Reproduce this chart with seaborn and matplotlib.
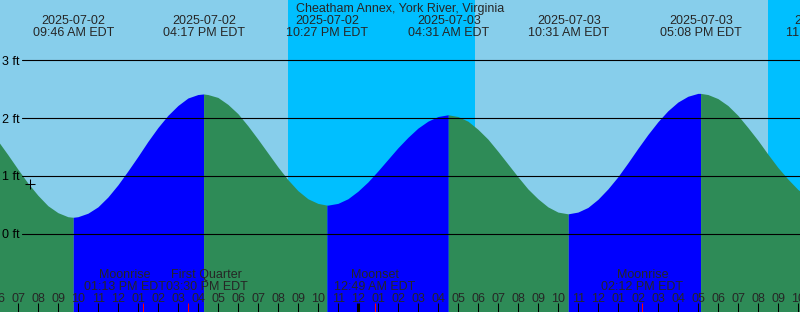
import matplotlib
matplotlib.use("Agg")
import matplotlib.pyplot as plt
import numpy as np
import pandas as pd
import seaborn as sns

# ------------------------------------------------------------------ data
title = "Cheatham Annex, York River, Virginia"

# hours since 2025-07-02 00:00 EDT
view_start, view_end = 6.08, 46.08

# tide height every half hour (ft)
sample_hours = np.arange(6.0, 46.51, 0.5)
sample_heights = [
    1.60, 1.36, 1.11, 0.87, 0.66, 0.48, 0.36, 0.29,
    0.29, 0.35, 0.46, 0.63, 0.84, 1.08, 1.33, 1.59, 1.83, 2.04, 2.21, 2.34, 2.40,
    2.40, 2.35, 2.23, 2.07, 1.86, 1.63, 1.39, 1.15, 0.93, 0.74, 0.60, 0.52,
    0.49, 0.52, 0.60, 0.73, 0.89, 1.08, 1.28, 1.48, 1.66, 1.82, 1.94, 2.02, 2.05,
    2.02, 1.94, 1.80, 1.63, 1.42, 1.20, 0.98, 0.77, 0.60, 0.46, 0.37, 0.34,
    0.37, 0.45, 0.59, 0.77, 0.98, 1.22, 1.47, 1.71, 1.93, 2.12, 2.27, 2.37, 2.42,
    2.40, 2.33, 2.21, 2.04, 1.83, 1.61, 1.37, 1.14, 0.94, 0.76, 0.63,
]

# high / low tide events
extreme_hours = [9.767, 16.283, 22.45, 28.517, 34.517, 41.133, 47.4]
extreme_heights = [0.28, 2.41, 0.49, 2.05, 0.34, 2.42, 0.54]
extreme_dates = ["2025-07-02", "2025-07-02", "2025-07-02", "2025-07-03",
                 "2025-07-03", "2025-07-03", "2025-07-03"]
extreme_times = ["09:46 AM EDT", "04:17 PM EDT", "10:27 PM EDT", "04:31 AM EDT",
                 "10:31 AM EDT", "05:08 PM EDT", "11:24 PM EDT"]

# sunset / sunrise (night intervals)
night_starts = [20.485, 44.485]
night_ends = [29.835, 53.0]

# moon events
moon_hours = [13.217, 15.5, 24.817, 38.2]
moon_names = ["Moonrise", "First Quarter", "Moonset", "Moonrise"]
moon_times = ["01:13 PM EDT", "03:30 PM EDT", "12:49 AM EDT", "02:12 PM EDT"]

# current time marker
now_hour = 7.585
now_height = 0.86

height_ticks = [0, 1, 2, 3]
hour_ticks = list(range(6, 47))

# ------------------------------------------------------------------ style
sns.set_style("white")
plt.rcParams["font.family"] = ["Liberation Sans", "DejaVu Sans"]
plt.rcParams["font.size"] = 9

DAY = "#87CEEB"
NIGHT = "#00BFFF"
FLOOD = "#0000FF"
EBB = "#2E8B57"

W, H = 800, 312
fig = plt.figure(figsize=(W / 100, H / 100), dpi=100)
ax = fig.add_axes([0, 0, 1, 1])
ax.set_facecolor(DAY)

px_per_ft = 57.9
ymax = 234 / px_per_ft
ymin = -(H - 234) / px_per_ft

# night shading
for s, e in zip(night_starts, night_ends):
    ax.axvspan(s, e, color=NIGHT, lw=0, zorder=1)

# curve = samples + extremes
curve = pd.concat([
    pd.DataFrame({"hour": sample_hours, "height": sample_heights}),
    pd.DataFrame({"hour": extreme_hours, "height": extreme_heights}),
]).sort_values("hour").drop_duplicates("hour").reset_index(drop=True)

bounds = [-np.inf] + list(extreme_hours) + [np.inf]
for a, b in zip(bounds[:-1], bounds[1:]):
    seg = curve[(curve.hour >= a) & (curve.hour <= b)]
    if len(seg) < 2:
        continue
    rising = seg.height.iloc[-1] > seg.height.iloc[0]
    ax.fill_between(seg.hour, seg.height, ymin - 5, color=FLOOD if rising else EBB,
                    lw=0, zorder=2)

# height lines + labels
for v in height_ticks:
    ax.axhline(v, xmin=22 / W, xmax=1, color="black", lw=0.8, zorder=3)
    ax.text(19.5 / W, v - 4.3 / px_per_ft, f"{v} ft", transform=ax.get_yaxis_transform(),
            ha="right", va="baseline", color="black", zorder=5)

xt = ax.get_xaxis_transform()

def ay(px_from_top):
    return 1 - px_from_top / H

# title
ax.text(0.5, ay(12.3), title, transform=ax.transAxes, ha="center", va="baseline", zorder=6)

# tide event labels
for hr, d, t in zip(extreme_hours, extreme_dates, extreme_times):
    ax.text(hr, ay(24.2), d, transform=xt, ha="center", va="baseline", zorder=6)
    ax.text(hr, ay(36.2), t, transform=xt, ha="center", va="baseline", zorder=6)

# hour ticks
for h in hour_ticks:
    lw = 2.2 if h % 24 == 0 else 0.75
    ax.vlines(h, 0, 9 / H, transform=xt, colors="black", lw=lw, zorder=5)
    lab = f"{(h % 12) or 12:02d}"
    ax.text(h, ay(302.3), lab, transform=xt, ha="center", va="baseline", zorder=6)

# moon events
ax.vlines(moon_hours, 0, 9 / H, transform=xt, colors="red", lw=0.75, zorder=5)
mtexts = []
for hr, n, t in zip(moon_hours, moon_names, moon_times):
    t1 = ax.text(hr, ay(278.3), n, transform=xt, ha="center", va="baseline", zorder=6)
    t2 = ax.text(hr, ay(290.3), t, transform=xt, ha="center", va="baseline", zorder=6)
    mtexts.append((t1, t2))

# current time marker
sns.scatterplot(x=[now_hour], y=[now_height], marker="+", s=50, color="black",
                linewidth=0.75, ax=ax, zorder=7)

ax.set_xlim(view_start, view_end)
ax.set_ylim(ymin, ymax)
ax.set_xticks([])
ax.set_yticks([])
ax.set_xlabel("")
ax.set_ylabel("")
for sp in ax.spines.values():
    sp.set_visible(False)

# resolve overlapping moon labels
fig.canvas.draw()
r = fig.canvas.get_renderer()
pph = ax.transData.transform((1, 0))[0] - ax.transData.transform((0, 0))[0]
widths = [max(a.get_window_extent(r).width, b.get_window_extent(r).width) / pph
          for a, b in mtexts]
centers = list(moon_hours)
for i in range(len(centers) - 1):
    if centers[i] + widths[i] / 2 > centers[i + 1] - widths[i + 1] / 2:
        mid = (centers[i] + centers[i + 1]) / 2
        centers[i] = mid - widths[i] / 2
        centers[i + 1] = mid + widths[i + 1] / 2
for c, (a, b) in zip(centers, mtexts):
    a.set_x(c)
    b.set_x(c)

fig.savefig("out.png", dpi=100)
